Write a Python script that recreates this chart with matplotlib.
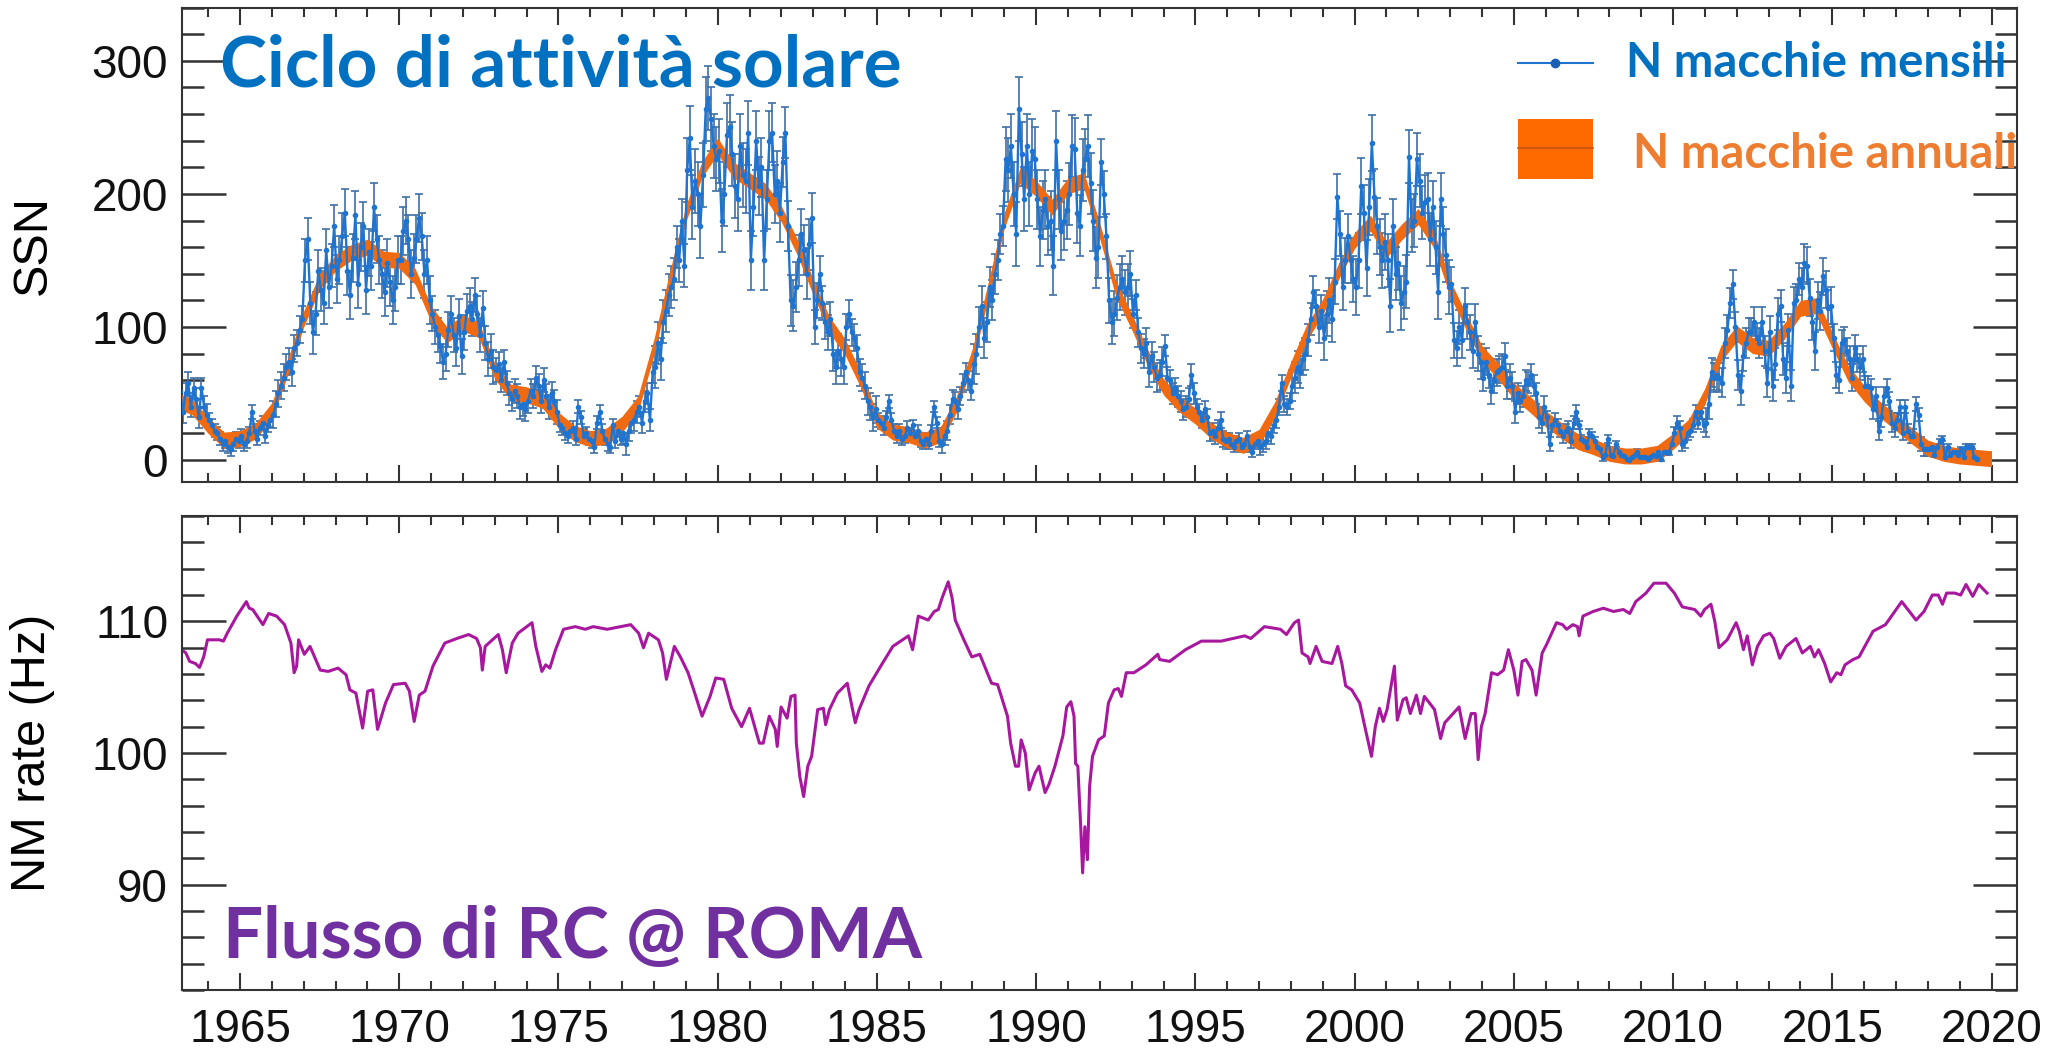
import matplotlib.pyplot as plt
from matplotlib.ticker import MultipleLocator
from matplotlib.patches import Rectangle

# monthly sunspot number, one row per year starting 1963
first_year = 1963
ssn_monthly = [
    [44, 52, 36, 50, 58, 40, 54, 46, 32, 54, 40, 34],
    [30, 26, 22, 20, 16, 12, 14, 10, 8, 12, 16, 14],
    [18, 12, 14, 20, 36, 22, 16, 24, 28, 18, 26, 30],
    [34, 42, 50, 56, 62, 70, 74, 66, 84, 88, 98, 106],
    [150, 166, 118, 96, 110, 142, 128, 118, 158, 130, 146, 176],
    [136, 150, 168, 186, 142, 124, 152, 184, 132, 160, 176, 128],
    [156, 146, 190, 166, 150, 140, 126, 148, 134, 120, 130, 150],
    [150, 172, 180, 166, 140, 152, 166, 182, 168, 140, 150, 120],
    [110, 100, 94, 86, 74, 80, 98, 110, 94, 84, 108, 78],
    [96, 112, 116, 106, 124, 110, 94, 114, 88, 76, 82, 70],
    [68, 72, 60, 74, 58, 50, 46, 52, 48, 40, 42, 38],
    [44, 52, 48, 62, 56, 44, 60, 48, 40, 50, 44, 36],
    [26, 24, 20, 18, 22, 24, 16, 40, 32, 18, 20, 16],
    [14, 10, 28, 36, 22, 16, 12, 10, 26, 14, 22, 16],
    [20, 12, 22, 28, 30, 36, 40, 28, 44, 50, 30, 66],
    [70, 88, 76, 104, 112, 124, 130, 136, 160, 150, 180, 146],
    [218, 242, 190, 210, 200, 176, 214, 264, 272, 256, 236, 226],
    [232, 180, 200, 244, 250, 230, 206, 196, 236, 214, 210, 246],
    [150, 190, 240, 206, 220, 150, 196, 240, 246, 200, 210, 186],
    [224, 246, 176, 120, 116, 130, 150, 170, 158, 140, 162, 182],
    [100, 120, 140, 118, 104, 96, 106, 80, 70, 82, 76, 70],
    [100, 110, 96, 92, 84, 66, 62, 56, 44, 40, 32, 38],
    [30, 28, 24, 32, 44, 30, 22, 18, 22, 16, 18, 24],
    [20, 26, 18, 22, 14, 12, 16, 12, 22, 40, 28, 14],
    [12, 18, 22, 34, 46, 44, 38, 48, 58, 66, 60, 52],
    [72, 80, 100, 116, 92, 104, 130, 120, 140, 150, 170, 176],
    [226, 218, 236, 200, 170, 264, 230, 196, 236, 200, 232, 226],
    [196, 168, 188, 196, 176, 180, 146, 240, 196, 172, 180, 188],
    [200, 236, 234, 186, 176, 218, 226, 236, 208, 180, 152, 160],
    [224, 200, 168, 120, 104, 110, 122, 130, 136, 126, 130, 140],
    [110, 124, 96, 84, 80, 88, 66, 78, 70, 62, 64, 74],
    [86, 62, 60, 50, 54, 48, 44, 38, 40, 46, 64, 50],
    [40, 36, 30, 38, 32, 20, 22, 18, 24, 30, 16, 14],
    [16, 12, 10, 14, 16, 10, 12, 18, 10, 6, 12, 14],
    [10, 12, 14, 20, 18, 26, 30, 40, 58, 42, 40, 44],
    [56, 62, 70, 66, 76, 80, 90, 106, 126, 116, 100, 112],
    [92, 110, 120, 106, 134, 198, 170, 130, 150, 168, 150, 136],
    [130, 150, 206, 186, 144, 190, 238, 198, 176, 160, 150, 164],
    [150, 116, 176, 140, 148, 118, 126, 134, 228, 176, 180, 226],
    [210, 186, 194, 196, 166, 190, 160, 126, 196, 170, 154, 130],
    [132, 90, 84, 100, 90, 116, 104, 96, 82, 104, 80, 74],
    [62, 74, 64, 52, 60, 66, 68, 70, 78, 56, 62, 56],
    [36, 50, 44, 48, 60, 58, 64, 56, 50, 32, 28, 40],
    [32, 12, 26, 30, 26, 22, 18, 22, 24, 14, 28, 36],
    [26, 16, 14, 10, 20, 18, 14, 10, 8, 2, 4, 16],
    [4, 3, 12, 6, 4, 3, 1, 0, 2, 4, 6, 2],
    [2, 2, 1, 2, 4, 3, 6, 1, 6, 6, 6, 12],
    [20, 28, 24, 12, 14, 20, 22, 26, 36, 28, 36, 26],
    [28, 42, 66, 62, 64, 62, 58, 88, 98, 118, 132, 100],
    [64, 52, 78, 88, 96, 96, 104, 92, 88, 104, 82, 58],
    [96, 56, 72, 110, 116, 76, 62, 98, 56, 118, 120, 136],
    [130, 148, 146, 122, 104, 82, 120, 112, 138, 128, 114, 116],
    [92, 64, 60, 88, 90, 82, 76, 62, 84, 76, 70, 76],
    [56, 56, 54, 38, 48, 22, 32, 48, 54, 44, 28, 24],
    [30, 40, 20, 40, 22, 18, 18, 42, 34, 12, 8, 8],
    [8, 10, 4, 10, 14, 16, 2, 10, 4, 6, 6, 4],
    [8, 2, 10, 10, 10, 2, 1],
]
# typical error of the monthly values, one per year
ssn_err = [8, 5, 5, 10, 16, 18, 18, 18, 13, 13, 9, 9, 5, 5, 8, 16, 24, 24, 22,
           19, 13, 10, 5, 4, 7, 15, 24, 22, 23, 17, 11, 8, 6, 4, 6, 12, 17, 21,
           20, 20, 13, 10, 8, 5, 3, 2, 2, 5, 11, 11, 12, 14, 10, 7, 5, 2, 2]

# smoothed (annual) sunspot number
annual_years = [1963.0, 1963.5, 1964.0, 1964.5, 1965.0, 1965.5, 1966.0, 1966.5,
                1967.0, 1967.5, 1968.0, 1968.5, 1969.0, 1969.5, 1970.0, 1970.5,
                1971.0, 1971.5, 1972.0, 1972.5, 1973.0, 1973.5, 1974.0, 1974.5,
                1975.0, 1975.5, 1976.0, 1976.5, 1977.0, 1977.5, 1978.0, 1978.5,
                1979.0, 1979.5, 1980.0, 1980.5, 1981.0, 1981.5, 1982.0, 1982.5,
                1983.0, 1983.5, 1984.0, 1984.5, 1985.0, 1985.5, 1986.0, 1986.5,
                1987.0, 1987.5, 1988.0, 1988.5, 1989.0, 1989.5, 1990.0, 1990.5,
                1991.0, 1991.5, 1992.0, 1992.5, 1993.0, 1993.5, 1994.0, 1994.5,
                1995.0, 1995.5, 1996.0, 1996.5, 1997.0, 1997.5, 1998.0, 1998.5,
                1999.0, 1999.5, 2000.0, 2000.5, 2001.0, 2001.5, 2002.0, 2002.5,
                2003.0, 2003.5, 2004.0, 2004.5, 2005.0, 2005.5, 2006.0, 2006.5,
                2007.0, 2007.5, 2008.0, 2008.5, 2009.0, 2009.5, 2010.0, 2010.5,
                2011.0, 2011.5, 2012.0, 2012.5, 2013.0, 2013.5, 2014.0, 2014.5,
                2015.0, 2015.5, 2016.0, 2016.5, 2017.0, 2017.5, 2018.0, 2018.5,
                2019.0, 2019.5, 2020.0]
annual_ssn = [45, 40, 26, 15, 16, 22, 37, 70, 106, 134, 148, 156, 160, 151, 150, 138,
              110, 94, 103, 98, 67, 51, 49, 45, 30, 20, 16, 18, 27, 42, 85, 136,
              185, 218, 236, 218, 210, 202, 185, 160, 130, 102, 85, 60, 30, 21, 19, 15,
              19, 42, 78, 128, 180, 214, 204, 190, 206, 210, 172, 129, 104, 77, 55, 42,
              33, 22, 15, 11, 17, 38, 68, 96, 115, 142, 165, 178, 158, 172, 183, 165,
              129, 104, 80, 67, 52, 42, 31, 22, 14, 10, 5, 3, 3, 5, 14, 25,
              48, 80, 95, 86, 84, 97, 114, 116, 90, 65, 50, 38, 28, 18, 9, 5,
              3, 2, 1]
annual_halfwidth = 6

# neutron monitor count rate, Rome
nm_years = [1963.17, 1963.3, 1963.42, 1963.6, 1963.73, 1963.86, 1963.98, 1964.35,
            1964.48, 1964.6, 1964.9, 1965.2, 1965.29, 1965.4, 1965.72, 1965.9,
            1966.15, 1966.4, 1966.6, 1966.7, 1966.78, 1966.84, 1967.02, 1967.2,
            1967.52, 1967.77, 1968.08, 1968.33, 1968.45, 1968.64, 1968.85, 1969.01,
            1969.17, 1969.32, 1969.57, 1969.82, 1970.19, 1970.32, 1970.47, 1970.63,
            1970.81, 1971.06, 1971.43, 1971.81, 1972.18, 1972.43, 1972.55, 1972.61,
            1972.7, 1973.11, 1973.24, 1973.36, 1973.55, 1973.73, 1974.17, 1974.29,
            1974.48, 1974.6, 1974.73, 1974.91, 1975.16, 1975.53, 1975.84, 1976.09,
            1976.53, 1977.27, 1977.52, 1977.67, 1977.83, 1978.14, 1978.27, 1978.39,
            1978.64, 1978.83, 1979.07, 1979.26, 1979.51, 1979.76, 1979.94, 1980.19,
            1980.44, 1980.75, 1981.0, 1981.31, 1981.43, 1981.62, 1981.81, 1981.87,
            1981.99, 1982.18, 1982.3, 1982.43, 1982.47, 1982.58, 1982.7, 1982.83,
            1982.95, 1983.14, 1983.32, 1983.39, 1983.51, 1983.76, 1984.07, 1984.32,
            1984.44, 1984.75, 1985.12, 1985.5, 1985.81, 1985.99, 1986.12, 1986.3,
            1986.61, 1986.8, 1986.93, 1987.05, 1987.24, 1987.36, 1987.46, 1987.73,
            1987.98, 1988.23, 1988.6, 1988.79, 1989.1, 1989.2, 1989.35, 1989.45,
            1989.53, 1989.66, 1989.78, 1989.97, 1990.09, 1990.28, 1990.4, 1990.59,
            1990.84, 1990.96, 1991.09, 1991.19, 1991.24, 1991.31, 1991.4, 1991.46,
            1991.53, 1991.61, 1991.68, 1991.77, 1991.96, 1992.14, 1992.27, 1992.45,
            1992.58, 1992.68, 1992.83, 1993.07, 1993.45, 1993.82, 1993.88, 1994.19,
            1994.69, 1995.19, 1995.81, 1996.55, 1996.74, 1997.17, 1997.67, 1997.86,
            1998.11, 1998.24, 1998.35, 1998.54, 1998.6, 1998.79, 1998.98, 1999.29,
            1999.47, 1999.6, 1999.72, 1999.91, 2000.16, 2000.34, 2000.53, 2000.65,
            2000.78, 2000.9, 2001.02, 2001.25, 2001.34, 2001.52, 2001.62, 2001.75,
            2001.94, 2002.07, 2002.19, 2002.32, 2002.51, 2002.7, 2002.83, 2003.02,
            2003.28, 2003.47, 2003.66, 2003.79, 2003.88, 2003.98, 2004.1, 2004.3,
            2004.49, 2004.68, 2004.83, 2005.0, 2005.13, 2005.26, 2005.38, 2005.57,
            2005.7, 2005.89, 2006.02, 2006.34, 2006.53, 2006.66, 2006.85, 2007.0,
            2007.05, 2007.17, 2007.49, 2007.81, 2008.13, 2008.44, 2008.64, 2008.83,
            2009.15, 2009.4, 2009.78, 2010.04, 2010.29, 2010.68, 2010.87, 2010.99,
            2011.19, 2011.31, 2011.44, 2011.7, 2011.98, 2012.08, 2012.21, 2012.33,
            2012.49, 2012.65, 2012.84, 2013.04, 2013.16, 2013.35, 2013.55, 2013.86,
            2014.06, 2014.31, 2014.44, 2014.57, 2014.76, 2014.95, 2015.14, 2015.27,
            2015.4, 2015.65, 2015.84, 2016.28, 2016.67, 2016.86, 2017.18, 2017.63,
            2017.88, 2018.14, 2018.33, 2018.46, 2018.59, 2018.84, 2019.03, 2019.2,
            2019.41, 2019.6, 2019.86]
nm_rate = [107.85, 107.6, 106.96, 106.8, 106.5, 107.3, 108.6, 108.6,
           108.5, 109.1, 110.4, 111.5, 111.0, 110.9, 109.75, 110.6,
           110.4, 109.75, 108.35, 106.1, 106.6, 108.6, 107.5, 108.1,
           106.3, 106.2, 106.45, 105.95, 104.8, 104.55, 101.9, 104.7,
           104.8, 101.8, 103.8, 105.2, 105.3, 104.7, 102.4, 104.4,
           104.7, 106.6, 108.35, 108.7, 109.0, 108.7, 108.0, 106.3,
           108.1, 109.0, 107.85, 106.1, 108.35, 109.1, 109.9, 108.1,
           106.2, 106.7, 106.45, 107.85, 109.4, 109.6, 109.4, 109.6,
           109.4, 109.75, 109.1, 108.0, 109.1, 108.6, 107.6, 105.6,
           108.1, 107.3, 106.1, 104.7, 102.8, 104.3, 105.7, 105.6,
           103.4, 102.0, 103.4, 100.75, 100.75, 102.8, 101.8, 100.5,
           103.5, 102.65, 104.3, 104.4, 100.75, 98.2, 96.7, 99.0,
           99.75, 103.3, 103.4, 102.15, 103.3, 104.55, 105.3, 102.3,
           103.3, 105.1, 106.6, 108.1, 108.6, 108.9, 107.85, 110.4,
           110.1, 110.75, 110.9, 111.8, 113.0, 111.8, 110.1, 108.6,
           107.3, 107.5, 105.3, 105.2, 102.8, 100.75, 99.0, 99.0,
           101.0, 100.0, 97.2, 98.5, 99.0, 97.0, 97.6, 99.0,
           101.3, 103.5, 103.9, 102.8, 99.2, 99.0, 94.4, 90.9,
           94.4, 91.9, 97.5, 99.75, 101.0, 101.3, 103.8, 104.8,
           104.9, 104.3, 106.1, 106.1, 106.7, 107.5, 107.1, 106.96,
           107.85, 108.5, 108.5, 108.9, 108.7, 109.6, 109.4, 109.0,
           109.9, 110.1, 107.6, 107.3, 106.8, 108.1, 106.96, 106.8,
           108.1, 106.8, 105.1, 104.8, 103.8, 101.8, 99.75, 102.0,
           103.4, 102.4, 103.3, 106.6, 102.5, 104.05, 104.2, 103.0,
           104.4, 103.0, 104.3, 103.9, 103.3, 101.1, 102.3, 102.8,
           103.5, 101.1, 103.0, 103.0, 99.5, 102.0, 103.0, 106.1,
           105.95, 106.3, 107.85, 106.3, 104.4, 106.96, 107.1, 106.3,
           104.4, 107.6, 108.2, 109.9, 109.75, 109.4, 109.75, 109.6,
           108.9, 110.4, 110.75, 111.0, 110.75, 110.9, 110.6, 111.5,
           112.15, 112.9, 112.9, 112.15, 111.1, 110.9, 110.4, 110.9,
           111.3, 110.0, 108.0, 108.6, 109.9, 109.25, 107.85, 108.9,
           106.7, 108.1, 108.9, 109.1, 108.7, 107.2, 108.1, 108.7,
           107.6, 108.1, 107.3, 107.85, 106.8, 105.4, 106.1, 105.95,
           106.7, 107.1, 107.3, 109.25, 109.75, 110.4, 111.5, 110.1,
           110.75, 112.0, 112.0, 111.3, 112.15, 112.15, 112.0, 112.8,
           111.9, 112.8, 112.15]

BLUE = '#1f74d0'
ERR_BLUE = '#3f6fa6'
ORANGE = '#f06a12'
MAGENTA = '#a8189e'
SPINE = '#333333'

plt.rcParams['font.family'] = ['Liberation Sans', 'DejaVu Sans']

ssn_x, ssn_y, ssn_e = [], [], []
for i, row in enumerate(ssn_monthly):
    for m, v in enumerate(row):
        ssn_x.append(first_year + i + (m + 0.5) / 12)
        ssn_y.append(v)
        ssn_e.append(ssn_err[i])

fig = plt.figure(figsize=(20.59, 10.48), dpi=100)
ax1 = fig.add_axes([0.0884, 0.5401, 0.8912, 0.4526])
ax2 = fig.add_axes([0.0884, 0.0553, 0.8912, 0.4523])


def style(ax):
    for s in ax.spines.values():
        s.set_linewidth(1.5)
        s.set_color(SPINE)
    ax.xaxis.set_major_locator(MultipleLocator(5))
    ax.xaxis.set_minor_locator(MultipleLocator(1))
    ax.tick_params(which='both', direction='in', top=True, right=True,
                   colors=SPINE, labelcolor='#111111', labelsize=33)
    ax.tick_params(axis='y', which='major', length=32, width=1.8, pad=10)
    ax.tick_params(axis='y', which='minor', length=16, width=1.8)
    ax.tick_params(axis='x', which='major', length=12, width=1.5, pad=13)
    ax.tick_params(axis='x', which='minor', length=6.5, width=1.5)
    ax.set_xlim(1963.18, 2020.8)


# top panel: sunspots
ax1.errorbar(ssn_x, ssn_y, yerr=ssn_e, fmt='none', ecolor=ERR_BLUE,
             elinewidth=1.2, capsize=3, capthick=1.2, zorder=2)
ax1.fill_between(annual_years,
                 [v - annual_halfwidth for v in annual_ssn],
                 [v + annual_halfwidth for v in annual_ssn],
                 color=ORANGE, lw=0, zorder=3)
ax1.plot(ssn_x, ssn_y, '-o', color=BLUE, lw=1.7, ms=3, zorder=4)
style(ax1)
ax1.set_ylim(-16.5, 340)
ax1.yaxis.set_major_locator(MultipleLocator(100))
ax1.yaxis.set_minor_locator(MultipleLocator(20))
ax1.tick_params(axis='x', labelbottom=False)
ax1.set_ylabel('SSN', fontsize=35)
ax1.yaxis.set_label_coords(-0.069, 0.5)

# hand-made legend
ax1.plot([0.728, 0.769], [0.883, 0.883], color=BLUE, lw=1.5,
         transform=ax1.transAxes, zorder=5)
ax1.plot([0.7485], [0.883], 'o', color='#1a5fb4', ms=6,
         transform=ax1.transAxes, zorder=5)
ax1.add_patch(Rectangle((0.728, 0.639), 0.041, 0.126, facecolor='#ff6a00',
                        edgecolor='none', transform=ax1.transAxes, zorder=5))
ax1.plot([0.728, 0.769], [0.704, 0.704], color='#c75310', lw=1.2,
         transform=ax1.transAxes, zorder=6)

bold = dict(family=['Lato', 'DejaVu Sans'], fontweight='bold', va='baseline')
ax1.text(0.787, 0.854, 'N macchie mensili', color='#0070c0', fontsize=34,
         transform=ax1.transAxes, zorder=7, **bold)
ax1.text(0.791, 0.662, 'N macchie annuali', color='#ed7d31', fontsize=34,
         transform=ax1.transAxes, zorder=7, clip_on=False, **bold)
ax1.text(0.0207, 0.833, 'Ciclo di attività solare', color='#0070c0',
         fontsize=51, transform=ax1.transAxes, zorder=7, **bold)

# bottom panel: neutron monitor
ax2.plot(nm_years, nm_rate, color=MAGENTA, lw=2.2)
style(ax2)
ax2.set_ylim(82, 118)
ax2.yaxis.set_major_locator(MultipleLocator(10))
ax2.yaxis.set_minor_locator(MultipleLocator(2))
ax2.set_ylabel('NM rate (Hz)', fontsize=35)
ax2.yaxis.set_label_coords(-0.069, 0.5)
ax2.text(0.0223, 0.0675, 'Flusso di RC @ ROMA', color='#7030a0',
         fontsize=51, transform=ax2.transAxes, **bold)

fig.savefig('out.png', dpi=100)
